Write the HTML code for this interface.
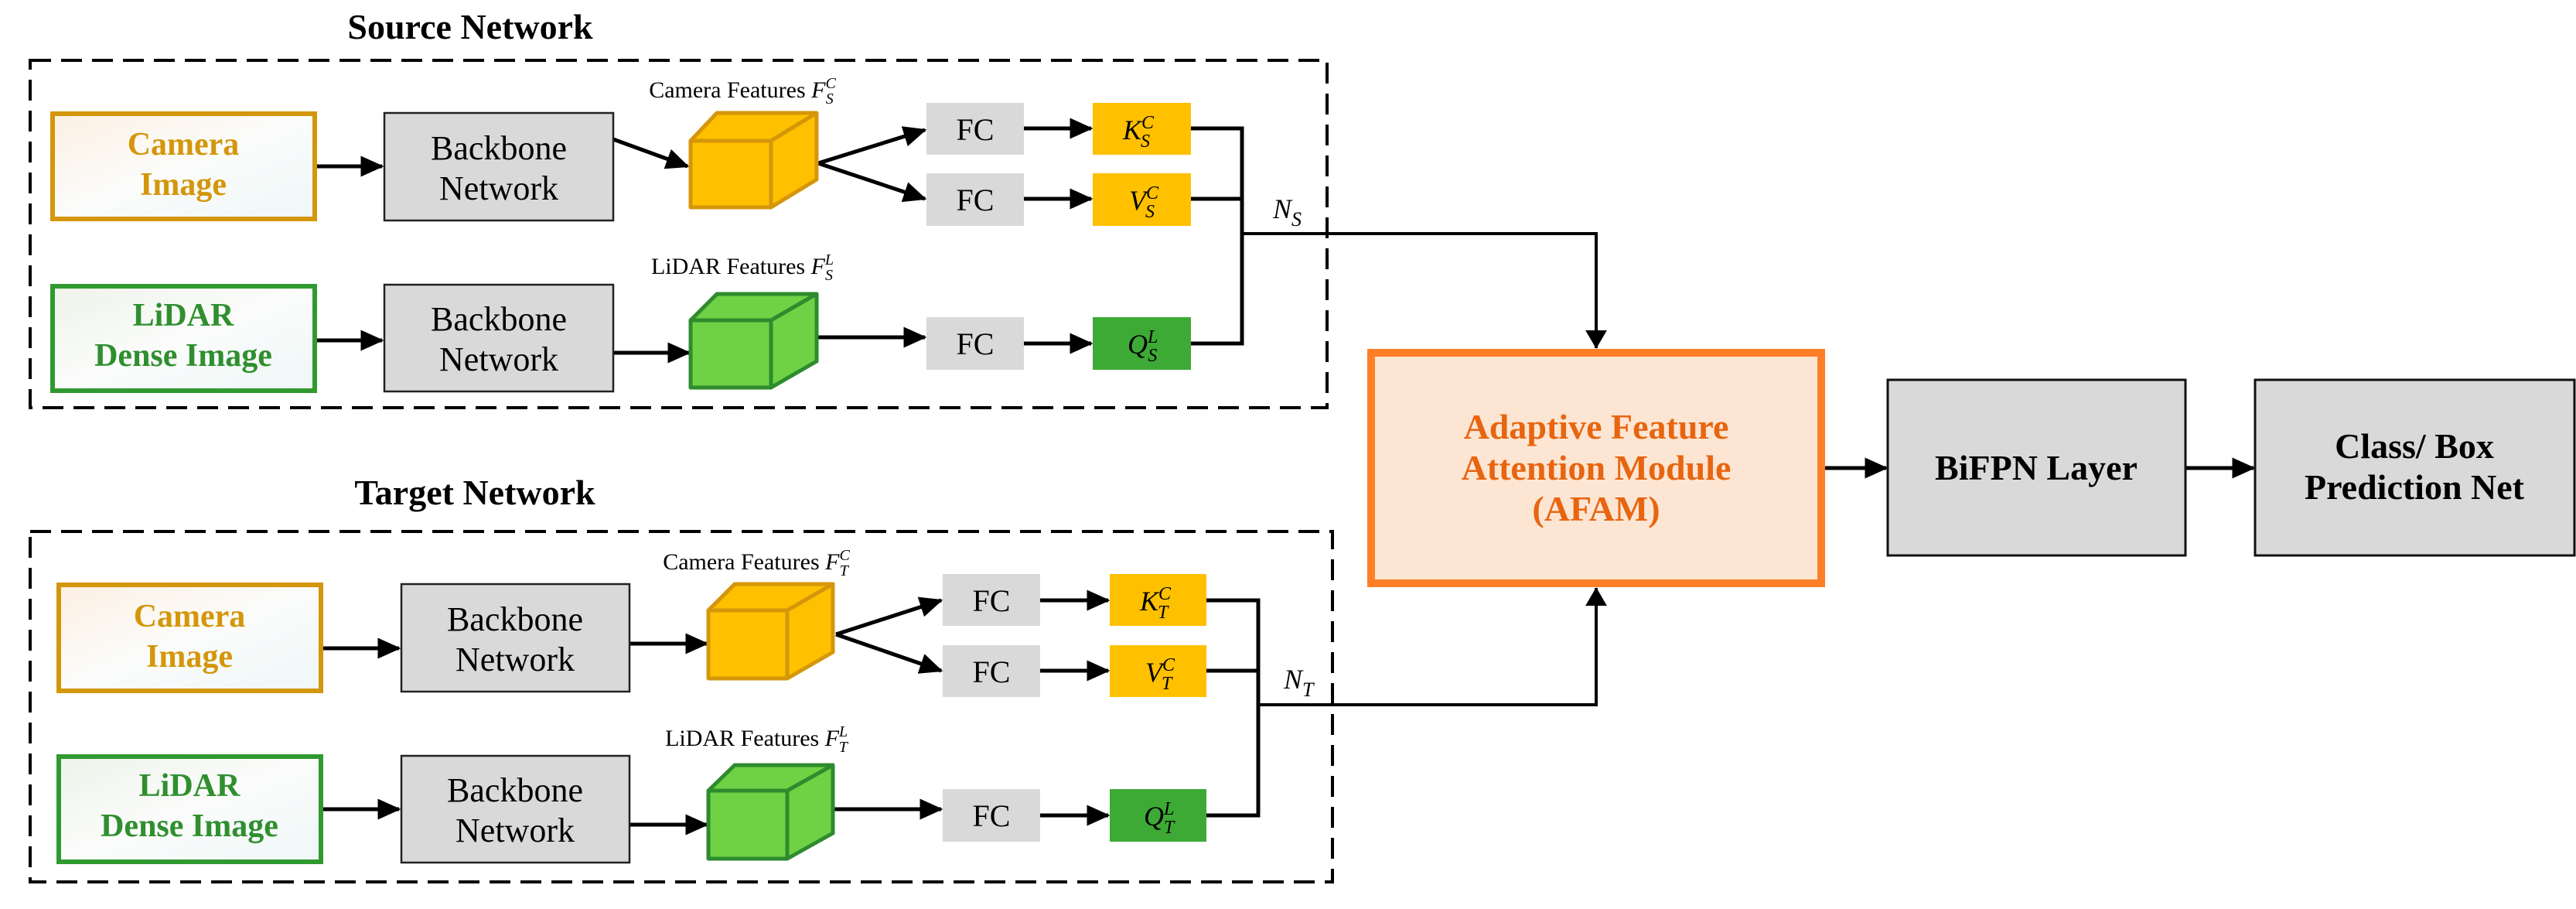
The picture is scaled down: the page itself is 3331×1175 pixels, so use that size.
<!DOCTYPE html>
<html><head><meta charset="utf-8"><style>
html,body{margin:0;padding:0;background:#fff;}
svg{display:block;}
svg, svg text, svg tspan{font-family:"Liberation Serif","DejaVu Serif",serif !important;}
</style></head><body>
<svg width="3331" height="1175" viewBox="0 0 3331 1175" xmlns="http://www.w3.org/2000/svg" font-family="Liberation Serif, serif">
<defs>
<linearGradient id="gc" x1="0" y1="0" x2="1" y2="1"><stop offset="0" stop-color="#fdf0e2"/><stop offset="0.5" stop-color="#fbfcfb"/><stop offset="1" stop-color="#eef7f7"/></linearGradient>
<linearGradient id="gl" x1="0" y1="0" x2="1" y2="1"><stop offset="0" stop-color="#eef3ea"/><stop offset="0.5" stop-color="#fbfcfb"/><stop offset="1" stop-color="#eef7f7"/></linearGradient>
<marker id="ah" markerWidth="6" markerHeight="6" refX="5.5" refY="3" orient="auto" markerUnits="strokeWidth"><path d="M0,0.3 L6,3 L0,5.7 z" fill="#000"/></marker>
<marker id="ah2" markerWidth="6" markerHeight="12" refX="5.8" refY="6" orient="auto" markerUnits="strokeWidth"><path d="M0,2.5 L6,6 L0,9.5 z" fill="#000"/></marker>
</defs>

<text x="608" y="50" font-size="46" font-weight="bold" text-anchor="middle">Source Network</text>
<text x="614" y="652" font-size="46" font-weight="bold" text-anchor="middle">Target Network</text>

<rect x="39" y="78" width="1677" height="449" fill="none" stroke="#000" stroke-width="4" stroke-dasharray="27 13"/>
<rect x="39" y="687" width="1684" height="453" fill="none" stroke="#000" stroke-width="4" stroke-dasharray="27 13"/>

<g stroke="#000" stroke-width="5" fill="none">
<line x1="410" y1="215" x2="494" y2="215" marker-end="url(#ah)"/>
<line x1="410" y1="440" x2="494" y2="440" marker-end="url(#ah)"/>
<line x1="793" y1="180" x2="889" y2="215" marker-end="url(#ah)"/>
<line x1="793" y1="456" x2="891" y2="456" marker-end="url(#ah)"/>
<line x1="1058" y1="211" x2="1196" y2="168" marker-end="url(#ah)"/>
<line x1="1058" y1="211" x2="1196" y2="257" marker-end="url(#ah)"/>
<line x1="1056" y1="436" x2="1196" y2="436" marker-end="url(#ah)"/>
<line x1="1324" y1="166" x2="1411" y2="166" marker-end="url(#ah)"/>
<line x1="1324" y1="257" x2="1411" y2="257" marker-end="url(#ah)"/>
<line x1="1324" y1="444" x2="1411" y2="444" marker-end="url(#ah)"/>
<polyline points="1540,166 1606,166 1606,444 1540,444"/>
<line x1="1540" y1="257" x2="1606" y2="257"/>
<line x1="418" y1="838" x2="516" y2="838" marker-end="url(#ah)"/>
<line x1="418" y1="1046" x2="516" y2="1046" marker-end="url(#ah)"/>
<line x1="814" y1="832" x2="914" y2="832" marker-end="url(#ah)"/>
<line x1="814" y1="1066" x2="914" y2="1066" marker-end="url(#ah)"/>
<line x1="1081" y1="820" x2="1217" y2="776" marker-end="url(#ah)"/>
<line x1="1081" y1="820" x2="1217" y2="867" marker-end="url(#ah)"/>
<line x1="1077" y1="1046" x2="1217" y2="1046" marker-end="url(#ah)"/>
<line x1="1345" y1="776" x2="1433" y2="776" marker-end="url(#ah)"/>
<line x1="1345" y1="867" x2="1433" y2="867" marker-end="url(#ah)"/>
<line x1="1345" y1="1054" x2="1433" y2="1054" marker-end="url(#ah)"/>
<polyline points="1560,776 1627,776 1627,1054 1560,1054"/>
<line x1="1560" y1="867" x2="1627" y2="867"/>
<line x1="2360" y1="605" x2="2439" y2="605" marker-end="url(#ah)"/>
<line x1="2826" y1="605" x2="2914" y2="605" marker-end="url(#ah)"/>
</g>
<g stroke="#000" stroke-width="4" fill="none">
<polyline points="1606,302 2064,302 2064,450" marker-end="url(#ah2)"/>
<polyline points="1627,911 2064,911 2064,760" marker-end="url(#ah2)"/>
</g>

<rect x="68" y="147" width="339" height="136" fill="url(#gc)" stroke="#d4960a" stroke-width="6"/>
<text x="237" y="200" font-size="42" font-weight="bold" fill="#d4960a" text-anchor="middle">Camera</text>
<text x="237" y="252" font-size="42" font-weight="bold" fill="#d4960a" text-anchor="middle">Image</text>
<rect x="68" y="370" width="339" height="135" fill="url(#gl)" stroke="#2f9a2f" stroke-width="6"/>
<text x="237" y="421" font-size="42" font-weight="bold" fill="#2f8f2f" text-anchor="middle">LiDAR</text>
<text x="237" y="473" font-size="42" font-weight="bold" fill="#2f8f2f" text-anchor="middle">Dense Image</text>

<rect x="76" y="756" width="339" height="137" fill="url(#gc)" stroke="#d4960a" stroke-width="6"/>
<text x="245" y="810" font-size="42" font-weight="bold" fill="#d4960a" text-anchor="middle">Camera</text>
<text x="245" y="862" font-size="42" font-weight="bold" fill="#d4960a" text-anchor="middle">Image</text>
<rect x="76" y="978" width="339" height="136" fill="url(#gl)" stroke="#2f9a2f" stroke-width="6"/>
<text x="245" y="1029" font-size="42" font-weight="bold" fill="#2f8f2f" text-anchor="middle">LiDAR</text>
<text x="245" y="1081" font-size="42" font-weight="bold" fill="#2f8f2f" text-anchor="middle">Dense Image</text>

<g fill="#d9d9d9" stroke="#222" stroke-width="2.5">
<rect x="497" y="146" width="296" height="139"/>
<rect x="497" y="368" width="296" height="138"/>
<rect x="519" y="755" width="295" height="139"/>
<rect x="519" y="977" width="295" height="138"/>
</g>
<g font-size="44" text-anchor="middle">
<text x="645" y="206">Backbone</text><text x="645" y="258">Network</text>
<text x="645" y="427">Backbone</text><text x="645" y="479">Network</text>
<text x="666" y="815">Backbone</text><text x="666" y="867">Network</text>
<text x="666" y="1036">Backbone</text><text x="666" y="1088">Network</text>
</g>

<g stroke-width="5" stroke-linejoin="round">
<g fill="#ffc000" stroke="#d4960a">
<rect x="893" y="182" width="104" height="86"/>
<polygon points="893,182 927,146 1056,146 997,182"/>
<polygon points="997,182 1056,146 1056,232 997,268"/>
<rect x="916" y="789" width="102" height="88"/>
<polygon points="916,789 950,755 1077,755 1018,789"/>
<polygon points="1018,789 1077,755 1077,843 1018,877"/>
</g>
<g fill="#6fd144" stroke="#2e8b2e">
<rect x="893" y="414" width="104" height="87"/>
<polygon points="893,414 927,380 1056,380 997,414"/>
<polygon points="997,414 1056,380 1056,467 997,501"/>
<rect x="916" y="1022" width="102" height="88"/>
<polygon points="916,1022 950,989 1077,989 1018,1022"/>
<polygon points="1018,1022 1077,989 1077,1077 1018,1110"/>
</g>
</g>

<g font-size="30" text-anchor="middle">
<text x="960" y="126">Camera Features <tspan font-style="italic">F</tspan><tspan font-style="italic" font-size="20" dy="-12">C</tspan><tspan font-style="italic" font-size="20" dx="-13" dy="20">S</tspan></text>
<text x="960" y="354">LiDAR Features <tspan font-style="italic">F</tspan><tspan font-style="italic" font-size="20" dy="-12">L</tspan><tspan font-style="italic" font-size="20" dx="-11" dy="20">S</tspan></text>
<text x="978" y="736">Camera Features <tspan font-style="italic">F</tspan><tspan font-style="italic" font-size="20" dy="-12">C</tspan><tspan font-style="italic" font-size="20" dx="-13" dy="20">T</tspan></text>
<text x="978" y="964">LiDAR Features <tspan font-style="italic">F</tspan><tspan font-style="italic" font-size="20" dy="-12">L</tspan><tspan font-style="italic" font-size="20" dx="-11" dy="20">T</tspan></text>
</g>

<g fill="#d9d9d9">
<rect x="1198" y="133" width="126" height="67"/>
<rect x="1198" y="224" width="126" height="68"/>
<rect x="1198" y="410" width="126" height="68"/>
<rect x="1219" y="742" width="126" height="67"/>
<rect x="1219" y="834" width="126" height="67"/>
<rect x="1219" y="1020" width="126" height="68"/>
</g>
<g font-size="40" text-anchor="middle">
<text x="1261" y="181">FC</text><text x="1261" y="272">FC</text><text x="1261" y="458">FC</text>
<text x="1282" y="790">FC</text><text x="1282" y="882">FC</text><text x="1282" y="1068">FC</text>
</g>

<rect x="1413" y="133" width="127" height="67" fill="#ffc000"/>
<rect x="1413" y="224" width="127" height="68" fill="#ffc000"/>
<rect x="1413" y="410" width="127" height="68" fill="#3daa35"/>
<rect x="1435" y="742" width="125" height="67" fill="#ffc000"/>
<rect x="1435" y="834" width="125" height="67" fill="#ffc000"/>
<rect x="1435" y="1020" width="125" height="68" fill="#3daa35"/>
<g font-size="36" font-style="italic">
<text x="1452" y="180">K<tspan font-size="24" dy="-14">C</tspan><tspan font-size="24" dx="-17" dy="24">S</tspan></text>
<text x="1460" y="271">V<tspan font-size="24" dy="-14">C</tspan><tspan font-size="24" dx="-17" dy="24">S</tspan></text>
<text x="1458" y="457">Q<tspan font-size="24" dy="-14">L</tspan><tspan font-size="24" dx="-13" dy="24">S</tspan></text>
<text x="1474" y="789">K<tspan font-size="24" dy="-14">C</tspan><tspan font-size="24" dx="-17" dy="24">T</tspan></text>
<text x="1481" y="881">V<tspan font-size="24" dy="-14">C</tspan><tspan font-size="24" dx="-17" dy="24">T</tspan></text>
<text x="1479" y="1067">Q<tspan font-size="24" dy="-14">L</tspan><tspan font-size="24" dx="-13" dy="24">T</tspan></text>
<text x="1646" y="282">N<tspan font-size="26" dy="10">S</tspan></text>
<text x="1660" y="890">N<tspan font-size="26" dy="10">T</tspan></text>
</g>

<rect x="1773" y="456" width="582" height="298" fill="#fde5d3" stroke="#ff7f27" stroke-width="10"/>
<g font-size="46" font-weight="bold" fill="#e8650f" text-anchor="middle">
<text x="2064" y="567">Adaptive Feature</text>
<text x="2064" y="620">Attention Module</text>
<text x="2064" y="673">(AFAM)</text>
</g>

<rect x="2441" y="491" width="385" height="227" fill="#d9d9d9" stroke="#111" stroke-width="3"/>
<text x="2633" y="620" font-size="46" font-weight="bold" text-anchor="middle">BiFPN Layer</text>
<rect x="2916" y="491" width="413" height="227" fill="#d9d9d9" stroke="#111" stroke-width="3"/>
<text x="3122" y="592" font-size="46" font-weight="bold" text-anchor="middle">Class/ Box</text>
<text x="3122" y="645" font-size="46" font-weight="bold" text-anchor="middle">Prediction Net</text>
</svg>
</body></html>
